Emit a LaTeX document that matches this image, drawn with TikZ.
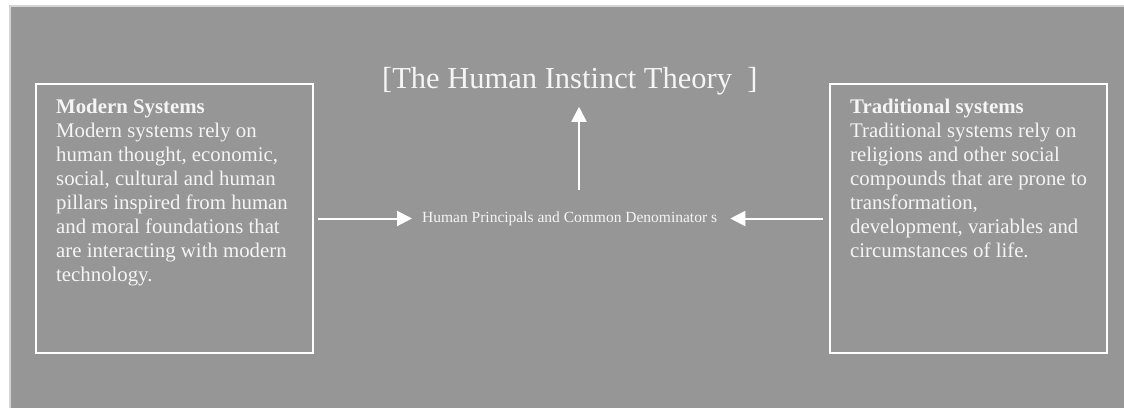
\documentclass[tikz,border=0pt]{standalone}
\usepackage{fontspec}
\setmainfont{Liberation Serif}
\usetikzlibrary{arrows.meta}
\definecolor{bggray}{RGB}{150,150,150}
\definecolor{rimgray}{RGB}{212,212,212}
\definecolor{txtwhite}{RGB}{245,245,245}
\tikzset{
  panel/.style={draw=white, line width=2pt, minimum width=277pt, minimum height=269pt, inner sep=0pt, outer sep=0pt},
  bodytext/.style={align=left, inner sep=0pt, anchor=north west, text=txtwhite, font=\fontsize{20.8}{24}\selectfont},
  arr/.style={draw=white, line width=2pt, -{Triangle[length=15pt,width=15pt]}},
}
\begin{document}
\begin{tikzpicture}[x=1pt, y=-1pt]
\useasboundingbox (0,0) rectangle (1124,408);
\fill[white] (0,0) rectangle (1124,408);
\fill[bggray] (10,6) rectangle (1124,408);
\draw[rimgray, line width=1.5pt] (10,408) -- (10,6) -- (1124,6);

\node[panel] (lbox) at (174.5,218.5) {};
\node[panel] (rbox) at (968,218.5) {};

\node[bodytext] (ltext) at (56,99) {\textbf{Modern Systems}\\Modern systems rely on\\human thought, economic,\\social, cultural and human\\pillars inspired from human\\and moral foundations that\\are interacting with modern\\technology.};
\node[bodytext] (rtext) at (850,99) {\textbf{Traditional systems}\\Traditional systems rely on\\religions and other social\\compounds that are prone to\\transformation,\\development, variables and\\circumstances of life.};

\node[anchor=base west, inner sep=0pt, text=txtwhite, font=\fontsize{30.5}{36}\selectfont] (title) at (382,88) {[The Human Instinct Theory\ \ ]};
\node[anchor=base west, inner sep=0pt, text=txtwhite, font=\fontsize{15.5}{18}\selectfont] (mid) at (422,222) {Human Principals and Common Denominator s};

\coordinate (upbase) at (579,190);
\draw[arr, shorten >=12pt] (upbase) -- (upbase |- title.south);
\draw[arr, shorten <=5pt, shorten >=10pt] (lbox.east) -- (mid.west |- lbox.east);
\draw[arr, shorten <=7pt, shorten >=13pt] (rbox.west) -- (mid.east |- rbox.west);
\end{tikzpicture}
\end{document}
